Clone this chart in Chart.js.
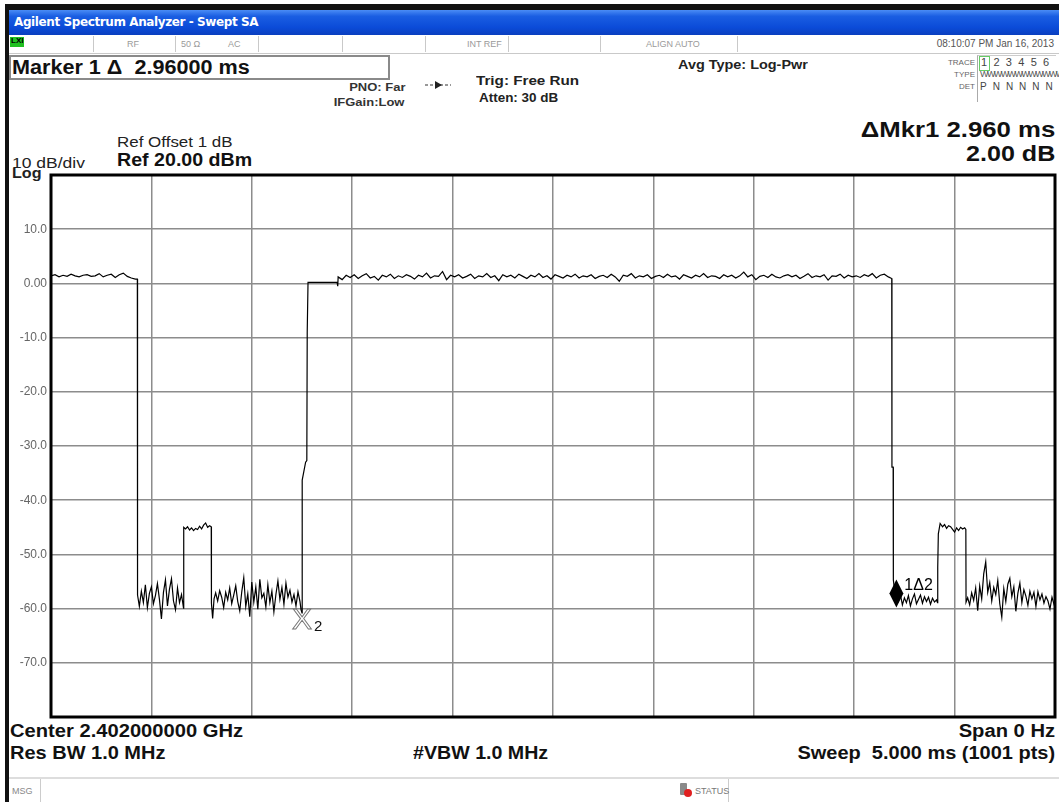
<!DOCTYPE html>
<html>
<head>
<meta charset="utf-8">
<script src="https://cdn.jsdelivr.net/npm/chart.js@4.4.1/dist/chart.umd.min.js"></script>
<style>
  html, body { margin: 0; padding: 0; background: #fff; }
  body { width: 1059px; height: 802px; position: relative; overflow: hidden;
         font-family: "Liberation Sans", Arial, sans-serif; color: #111; }
  .abs { position: absolute; white-space: nowrap; }
  .sl { transform-origin: left top; }
  .sr { transform-origin: right top; }
  #plot { position: absolute; left: 0; top: 0; }
  .cell { position: absolute; top: 36px; height: 16px; border-right: 1px solid #c9c9c9; }
  .small { font-size: 9px; color: #9a9a9a; }
</style>
</head>
<body>
<!-- outer frame + title bar -->
<div class="abs" style="left:5px;top:4px;width:1054px;height:6px;background:#111"></div>
<div class="abs" style="left:5px;top:4px;width:4px;height:798px;background:#111"></div>
<div class="abs" style="left:9px;top:10px;width:1050px;height:25px;background:linear-gradient(to bottom,#4a8cf5 0%,#1a5ee2 25%,#0b4bd8 70%,#0a3fbf 100%)"></div>
<div class="abs" style="left:14px;top:15px;font-size:12px;font-weight:bold;color:#fff;font-family:'DejaVu Sans',sans-serif;letter-spacing:-0.4px">Agilent Spectrum Analyzer - Swept SA</div>

<!-- status row -->
<div class="abs" style="left:9px;top:35px;width:1050px;height:18px;border-bottom:1px solid #c9c9c9;background:#fff"></div>
<div class="abs" style="left:10px;top:37px;width:14px;height:10px;background:#20c020"></div>
<div class="abs" style="left:11px;top:36px;font-size:8px;font-weight:bold;color:#000">LXI</div>
<div class="cell" style="left:9px;width:84px"></div>
<div class="cell" style="left:93px;width:82px"></div>
<div class="cell" style="left:175px;width:83px"></div>
<div class="cell" style="left:258px;width:84px"></div>
<div class="cell" style="left:342px;width:83px"></div>
<div class="cell" style="left:425px;width:83px"></div>
<div class="cell" style="left:508px;width:92px"></div>
<div class="cell" style="left:600px;width:137px"></div>
<div class="abs small" style="left:127px;top:39px">RF</div>
<div class="abs small" style="left:181px;top:39px">50 Ω</div>
<div class="abs small" style="left:228px;top:39px">AC</div>
<div class="abs small" style="left:467px;top:39px">INT REF</div>
<div class="abs small" style="left:646px;top:39px">ALIGN AUTO</div>
<div class="abs" style="right:5px;top:38px;font-size:10px;color:#555">08:10:07 PM Jan 16, 2013</div>

<!-- marker readout -->
<div class="abs" style="left:9px;top:55px;width:377px;height:21px;border:2px solid #8a8a8a"></div>
<div class="abs sl" style="left:12px;top:56px;font-size:20px;font-weight:bold;transform:scaleX(1.08)">Marker 1 Δ&nbsp; 2.96000 ms</div>

<div class="abs sl" style="left:342px;top:80px;font-size:11px;font-weight:bold;color:#333;text-align:center;line-height:15px;transform:scaleX(1.18)">PNO: Far<br><span style="position:relative;left:-7px">IFGain:Low</span></div>
<svg class="abs" style="left:425px;top:80px" width="26" height="10"><line x1="0" y1="5" x2="26" y2="5" stroke="#333" stroke-width="1.2" stroke-dasharray="3,2"/><polygon points="10,1 17,5 10,9" fill="#222"/></svg>
<div class="abs sl" style="left:476px;top:73px;font-size:13px;font-weight:bold;color:#222;transform:scaleX(1.17)">Trig: Free Run</div>
<div class="abs sl" style="left:479px;top:91px;font-size:12px;font-weight:bold;color:#222;transform:scaleX(1.12)">Atten: 30 dB</div>
<div class="abs sl" style="left:678px;top:57px;font-size:13px;font-weight:bold;color:#222;transform:scaleX(1.11)">Avg Type: Log-Pwr</div>

<!-- trace table -->
<div class="abs" style="left:977px;top:55px;width:78px;height:46px;border-left:1px solid #aaa;border-top:1px solid #ccc"></div>
<div class="abs" style="right:84px;top:58px;font-size:8px;color:#666">TRACE</div>
<div class="abs" style="right:84px;top:70px;font-size:8px;color:#666">TYPE</div>
<div class="abs" style="right:84px;top:82px;font-size:8px;color:#666">DET</div>
<div class="abs" style="left:979px;top:56px;width:9px;height:13px;border:1px solid #6c6"></div>
<div class="abs" style="left:981px;top:56px;font-size:11px;color:#444;letter-spacing:6.3px">123456</div>
<div class="abs" style="left:980px;top:69px;font-size:9px;color:#555;letter-spacing:-1.6px">WWWWWWWWWWWW</div>
<div class="abs" style="left:980px;top:81px;font-size:10px;color:#444;letter-spacing:6px">PNNNNN</div>

<!-- delta marker -->
<div class="abs sr" style="right:4px;top:117px;font-size:22px;font-weight:bold;color:#111;transform:scaleX(1.17)">ΔMkr1 2.960 ms</div>
<div class="abs sr" style="right:4px;top:141px;font-size:22px;font-weight:bold;color:#111;transform:scaleX(1.14)">2.00 dB</div>

<div class="abs sl" style="left:117px;top:133px;font-size:15px;color:#222;transform:scaleX(1.13)">Ref Offset 1 dB</div>
<div class="abs sl" style="left:117px;top:150px;font-size:18px;font-weight:bold;color:#111;transform:scaleX(1.09)">Ref 20.00 dBm</div>
<div class="abs sl" style="left:12px;top:155px;font-size:14px;color:#222;transform:scaleX(1.25)">10 dB/div</div>
<div class="abs sl" style="left:12px;top:165px;font-size:14px;font-weight:bold;color:#222;transform:scaleX(1.15)">Log</div>

<!-- footer -->
<div class="abs sl" style="left:10px;top:721px;font-size:18px;font-weight:bold;transform:scaleX(1.12)">Center 2.402000000 GHz</div>
<div class="abs sr" style="right:4px;top:721px;font-size:18px;font-weight:bold;transform:scaleX(1.12)">Span 0 Hz</div>
<div class="abs sl" style="left:10px;top:743px;font-size:18px;font-weight:bold;transform:scaleX(1.11)">Res BW 1.0 MHz</div>
<div class="abs sl" style="left:413px;top:743px;font-size:18px;font-weight:bold;transform:scaleX(1.09)">#VBW 1.0 MHz</div>
<div class="abs sr" style="right:4px;top:743px;font-size:18px;font-weight:bold;transform:scaleX(1.11)">Sweep&nbsp; 5.000 ms (1001 pts)</div>

<div class="abs" style="left:9px;top:777px;width:1050px;height:25px;border-top:2px solid #ddd"></div>
<div class="abs" style="left:40px;top:779px;width:1px;height:23px;background:#ccc"></div>
<div class="abs" style="left:728px;top:779px;width:1px;height:23px;background:#ccc"></div>
<div class="abs small" style="left:12px;top:786px;color:#888">MSG</div>
<div class="abs" style="left:680px;top:783px;width:7px;height:12px;background:#8a8a8a;border-radius:1px"></div>
<div class="abs" style="left:684px;top:789px;width:8px;height:8px;background:#e02020;border-radius:50%"></div>
<div class="abs small" style="left:695px;top:786px;color:#777">STATUS</div>

<canvas id="plot" width="1059" height="802"></canvas>

<script>
// sweep time (ms) and trace level (dBm), segment by segment
const leadBurstMs = [0.000,0.020,0.040,0.060,0.080,0.100,0.120,0.140,0.160,0.180,0.200,0.220,0.240,0.260,0.280,0.300,0.320,0.340,0.360,0.380,0.400,0.420,0.430];
const leadBurstDb = [1.4,1.6,1.2,1.5,1.3,1.7,1.4,1.2,1.5,1.6,1.3,1.4,1.8,1.2,1.5,1.7,1.1,1.6,1.9,1.3,1.0,0.8,0.8];

const gap1Ms = [0.431,0.440,0.450,0.460,0.470,0.480,0.490,0.500,0.510,0.520,0.530,0.540,0.550,0.560,0.570,0.580,0.590,0.600,0.610,0.620,0.630,0.640,0.650,0.660];
const gap1Db = [-57.5,-59.6,-56.8,-58.9,-55.6,-59.8,-57.2,-56.0,-59.1,-57.6,-55.4,-58.3,-61.9,-57.0,-54.7,-59.5,-56.4,-54.5,-58.6,-60.2,-56.2,-58.9,-57.4,-59.9];

const pulse1Ms = [0.661,0.670,0.680,0.690,0.700,0.710,0.720,0.730,0.740,0.750,0.760,0.770,0.780,0.790,0.798];
const pulse1Db = [-45.0,-45.3,-44.9,-45.5,-45.1,-45.6,-45.2,-45.4,-44.8,-45.3,-44.6,-44.2,-45.0,-44.7,-44.9];

const gap2Ms = [0.799,0.805,0.812,0.820,0.830,0.840,0.850,0.860,0.870,0.880,0.890,0.900,0.910,0.920,0.930,0.940,0.950,0.960,0.970,0.980,0.990,1.000,1.010,1.020,1.030,1.040,1.050,1.060,1.070,1.080,1.090,1.100,1.110,1.120,1.130,1.140,1.150,1.160,1.170,1.180,1.190,1.200,1.210,1.220,1.230,1.240,1.245,1.250];
const gap2Db = [-59.0,-61.8,-58.2,-57.1,-58.6,-56.7,-57.9,-59.8,-57.0,-58.4,-56.2,-59.1,-57.5,-55.8,-58.7,-60.4,-56.9,-54.3,-59.6,-57.3,-61.5,-55.1,-58.8,-56.0,-60.1,-54.6,-58.0,-57.2,-59.7,-55.6,-58.9,-56.8,-60.6,-57.4,-54.9,-58.3,-56.1,-59.2,-55.3,-57.9,-56.6,-58.8,-57.4,-59.5,-56.9,-58.7,-60.2,-60.8];

const rampMs = [1.251,1.268,1.274,1.276,1.280,1.425,1.428];
const rampDb = [-36.3,-33.0,-32.7,-9.0,0.2,0.2,-0.5];

const mainBurstMs = [
  1.43,1.45,1.47,1.49,1.51,1.53,1.55,1.57,1.59,1.61,
  1.63,1.65,1.67,1.69,1.71,1.73,1.75,1.77,1.79,1.81,
  1.83,1.85,1.87,1.89,1.91,1.93,1.95,1.97,1.99,2.01,
  2.03,2.05,2.07,2.09,2.11,2.13,2.15,2.17,2.19,2.21,
  2.23,2.25,2.27,2.29,2.31,2.33,2.35,2.37,2.39,2.41,
  2.43,2.45,2.47,2.49,2.51,2.53,2.55,2.57,2.59,2.61,
  2.63,2.65,2.67,2.69,2.71,2.73,2.75,2.77,2.79,2.81,
  2.83,2.85,2.87,2.89,2.91,2.93,2.95,2.97,2.99,3.01,
  3.03,3.05,3.07,3.09,3.11,3.13,3.15,3.17,3.19,3.21,
  3.23,3.25,3.27,3.29,3.31,3.33,3.35,3.37,3.39,3.41,
  3.43,3.45,3.47,3.49,3.51,3.53,3.55,3.57,3.59,3.61,
  3.63,3.65,3.67,3.69,3.71,3.73,3.75,3.77,3.79,3.81,
  3.83,3.85,3.87,3.89,3.91,3.93,3.95,3.97,3.99,4.01,
  4.03,4.05,4.07,4.09,4.11,4.13,4.15,4.17,4.187];
const mainBurstDb = [
  1.2,0.7,1.5,1.1,1.6,0.9,1.4,1.8,1.0,1.3,
  0.6,1.5,1.2,1.7,0.9,1.4,1.1,1.6,1.3,0.8,
  1.5,1.2,1.9,1.0,1.4,1.3,2.2,0.7,1.5,1.2,
  1.6,1.0,1.3,1.7,0.9,1.4,1.2,1.8,1.1,1.4,
  0.5,1.6,1.2,1.5,1.0,1.7,1.3,0.9,1.5,1.2,
  1.8,1.1,1.4,0.8,1.6,1.3,1.0,1.5,1.2,1.7,
  1.0,1.4,1.2,1.6,0.9,1.3,1.5,1.1,1.7,1.2,
  0.4,1.5,1.3,1.8,1.0,1.4,1.2,1.6,0.9,1.3,
  1.5,1.1,1.7,1.2,1.4,0.8,1.6,1.3,1.0,1.5,
  1.2,1.8,1.1,1.4,1.3,0.9,1.6,1.2,1.5,1.0,
  1.4,2.1,1.2,1.6,0.7,1.3,1.5,1.1,1.7,1.2,
  1.0,1.4,1.6,1.2,1.5,0.9,1.3,1.8,1.1,1.4,
  1.2,1.6,0.6,1.4,1.3,1.7,1.0,1.5,1.2,1.4,
  1.1,1.6,1.3,1.8,1.0,1.5,1.7,1.2,0.9];

const fallMs = [4.188,4.194,4.195,4.200];
const fallDb = [-33.9,-33.9,-54.7,-56.3];

const gap3Ms = [4.21,4.22,4.23,4.24,4.25,4.26,4.27,4.28,4.29,4.30,4.31,4.32,4.33,4.34,4.35,4.36,4.37,4.38,4.39,4.40,4.41,4.415,4.416,4.419];
const gap3Db = [-57.2,-58.6,-57.4,-59.3,-58.0,-58.9,-57.6,-59.5,-58.2,-57.3,-59.1,-58.3,-57.5,-59.0,-57.8,-58.7,-57.9,-59.2,-58.1,-58.8,-58.4,-58.9,-52.4,-46.2];

const pulse2Ms = [4.428,4.44,4.45,4.46,4.47,4.48,4.49,4.50,4.51,4.52,4.53,4.54,4.55,4.556];
const pulse2Db = [-44.3,-44.9,-44.5,-45.2,-44.7,-44.9,-45.4,-45.9,-45.1,-45.6,-45.0,-45.3,-45.1,-45.4];

const tailMs = [4.557,4.565,4.575,4.585,4.595,4.605,4.615,4.625,4.635,4.645,4.655,4.665,4.675,4.685,4.695,4.705,4.715,4.725,4.735,4.745,4.755,4.765,4.775,4.785,4.795,4.805,4.815,4.825,4.835,4.845,4.855,4.865,4.875,4.885,4.895,4.905,4.915,4.925,4.935,4.945,4.955,4.965,4.975,4.985,4.995,5.000];
const tailDb = [-58.8,-58.0,-59.3,-57.1,-58.5,-56.2,-60.4,-55.8,-58.2,-53.6,-51.4,-57.0,-55.2,-58.6,-56.1,-57.4,-54.8,-59.1,-61.6,-56.3,-58.7,-55.5,-54.4,-57.8,-56.0,-60.5,-57.2,-55.3,-58.9,-56.5,-57.7,-59.4,-56.8,-58.2,-57.0,-59.6,-56.9,-58.4,-57.3,-59.0,-57.8,-58.6,-60.1,-57.9,-59.2,-58.6];

// markers: 1 (delta) and 2 (reference)
const markerMs = [4.21, 1.25];
const markerDb = [-57.2, -59.2];

const yTicks = [10, 0, -10, -20, -30, -40, -50, -60, -70];

const segments = [
  [leadBurstMs, leadBurstDb], [gap1Ms, gap1Db], [pulse1Ms, pulse1Db], [gap2Ms, gap2Db],
  [rampMs, rampDb], [mainBurstMs, mainBurstDb], [fallMs, fallDb], [gap3Ms, gap3Db],
  [pulse2Ms, pulse2Db], [tailMs, tailDb]
];
const trace = [];
segments.forEach(([ms, db]) => ms.forEach((t, i) => trace.push({ x: t, y: db[i] })));

const frameAndMarkers = {
  id: 'frameAndMarkers',
  afterDatasetsDraw(chart) {
    const { ctx, chartArea: a, scales } = chart;
    ctx.save();
    ctx.strokeStyle = '#000';
    ctx.lineWidth = 3;
    ctx.strokeRect(a.left, a.top, a.right - a.left, a.bottom - a.top);

    // marker 1: filled diamond with label
    let x = scales.x.getPixelForValue(markerMs[0]);
    let y = scales.y.getPixelForValue(markerDb[0]);
    ctx.fillStyle = '#000';
    ctx.beginPath();
    ctx.moveTo(x, y - 14); ctx.lineTo(x + 7, y); ctx.lineTo(x, y + 14); ctx.lineTo(x - 7, y);
    ctx.closePath(); ctx.fill();
    ctx.font = '16px "Liberation Sans", Arial';
    ctx.textBaseline = 'alphabetic';
    ctx.fillText('1Δ2', x + 8, y - 3);

    // marker 2: hollow X with subscript
    x = scales.x.getPixelForValue(markerMs[1]);
    y = scales.y.getPixelForValue(markerDb[1]);
    ctx.font = '30px "Liberation Sans", Arial';
    ctx.textAlign = 'center';
    ctx.textBaseline = 'top';
    ctx.lineWidth = 1;
    ctx.strokeStyle = '#777';
    ctx.strokeText('X', x, y + 1);
    ctx.fillStyle = '#111';
    ctx.font = '15px "Liberation Sans", Arial';
    ctx.textAlign = 'left';
    ctx.fillText('2', x + 12, y + 15);
    ctx.restore();
  }
};

new Chart(document.getElementById('plot'), {
  type: 'line',
  data: {
    datasets: [{
      data: trace,
      borderColor: '#000',
      borderWidth: 1.2,
      pointRadius: 0,
      tension: 0,
      fill: false
    }]
  },
  options: {
    responsive: false,
    animation: false,
    events: [],
    layout: { padding: { left: 5, top: 175, right: 4, bottom: 85 } },
    plugins: { legend: { display: false }, tooltip: { enabled: false } },
    scales: {
      x: {
        type: 'linear',
        min: 0, max: 5,
        afterFit(scale) { scale.height = 0; },
        ticks: { display: false, stepSize: 0.5 },
        grid: { color: '#8c8c8c', lineWidth: 1.5, drawTicks: false },
        border: { display: false }
      },
      y: {
        min: -80, max: 20,
        afterFit(scale) { scale.width = 46; },
        afterBuildTicks(scale) { scale.ticks = [20].concat(yTicks, [-80]).map(v => ({ value: v })); },
        ticks: {
          color: '#666',
          padding: 4,
          font: { size: 12, family: '"Liberation Sans", Arial' },
          callback: v => (yTicks.includes(v) ? (v === 0 ? '0.00' : v.toFixed(1)) : '')
        },
        grid: { color: '#8c8c8c', lineWidth: 1.5, drawTicks: false },
        border: { display: false }
      }
    }
  },
  plugins: [frameAndMarkers]
});
</script>
</body>
</html>
